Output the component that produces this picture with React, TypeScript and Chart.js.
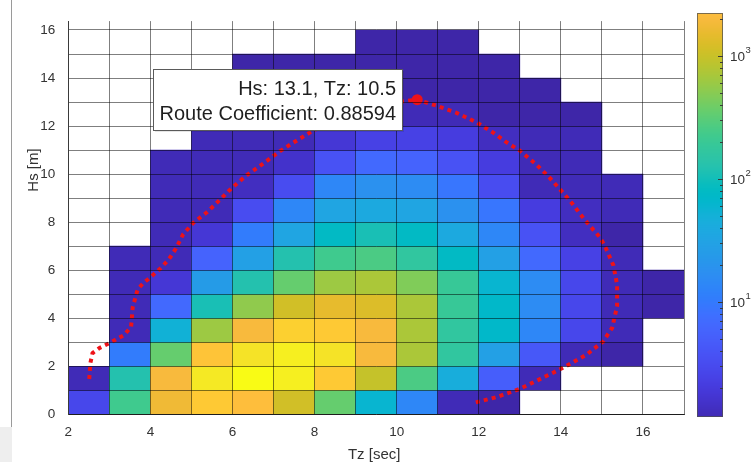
import React, { useEffect, useRef } from 'react';
import { Chart, registerables } from 'chart.js';

Chart.register(...registerables);

const FONT = "'Liberation Sans', Arial, Helvetica, sans-serif";

// Bin lower edges
const TZ_BINS = [2, 3, 4, 5, 6, 7, 8, 9, 10, 11, 12, 13, 14, 15, 16];
const HS_BINS = [0, 1, 2, 3, 4, 5, 6, 7, 8, 9, 10, 11, 12, 13, 14, 15];

// Occurrence per Hs row (columns follow TZ_BINS), null = empty bin
const OCC_HS0 = [2.8, 224, 1730, 3100, 2320, 1120, 350, 60, 14, 1.2, 1, null, null, null, null];
const OCC_HS1 = [1.2, 125, 2000, 6500, 10000, 7500, 3100, 960, 260, 45, 5, 1.2, null, null, null];
const OCC_HS2 = [null, 10.4, 350, 2700, 5600, 7500, 5600, 2000, 720, 167, 29, 4.3, 1.2, 1, null];
const OCC_HS3 = [null, 1.2, 52, 620, 2000, 3600, 3100, 2000, 720, 167, 70, 14, 2.8, 1.2, null];
const OCC_HS4 = [null, 1.2, 6.7, 108, 540, 1120, 1500, 1290, 720, 193, 70, 16, 2.8, 1.2, 1];
const OCC_HS5 = [null, 1.2, 1.8, 25, 125, 350, 620, 720, 460, 193, 60, 16, 2.8, 1.2, 1];
const OCC_HS6 = [null, 1.2, 1.2, 5.8, 29, 125, 224, 260, 167, 80, 29, 6.7, 2.4, 1.2, null];
const OCC_HS7 = [null, null, 1.2, 1.8, 10.4, 33.5, 80, 108, 80, 39, 14, 3.7, 1.34, 1, null];
const OCC_HS8 = [null, null, 1.2, 1.2, 3.2, 14, 33.5, 39, 33.5, 18.6, 9, 2.1, 1.34, 1.2, null];
const OCC_HS9 = [null, null, 1.2, 1.2, 1.34, 3.2, 14, 18.6, 16, 9, 3.2, 1.2, 1.2, 1.2, null];
const OCC_HS10 = [null, null, 1.2, 1.2, 1.2, 1.55, 3.7, 6.7, 5.8, 3.7, 2.1, 1.2, 1.2, null, null];
const OCC_HS11 = [null, null, null, 1.2, 1.2, 1.2, 1.8, 2.4, 2.4, 2.1, 1.34, 1.2, 1.2, null, null];
const OCC_HS12 = [null, null, null, 1, 1, 1.2, 1.2, 1.3, 1.2, 1.2, 1, 1, 1, null, null];
const OCC_HS13 = [null, null, null, null, 1, 1, 1, 1, 1, 1, 1, 1, null, null, null];
const OCC_HS14 = [null, null, null, null, 1, 1, 1, 1, 1, 1, 1, null, null, null, null];
const OCC_HS15 = [null, null, null, null, null, null, null, 1, 1, 1, null, null, null, null, null];

const OCC_ROWS = [
  OCC_HS0, OCC_HS1, OCC_HS2, OCC_HS3, OCC_HS4, OCC_HS5, OCC_HS6, OCC_HS7,
  OCC_HS8, OCC_HS9, OCC_HS10, OCC_HS11, OCC_HS12, OCC_HS13, OCC_HS14, OCC_HS15,
];

// Route contour
const ROUTE_TZ = [2.51, 2.54, 2.59, 2.76, 3.0, 3.36, 3.53, 3.57, 3.69, 3.82, 4.03, 4.23, 4.45, 4.62, 4.8, 5.05, 5.37, 5.7, 5.98, 6.35, 6.75, 7.16, 7.56, 7.95, 8.6, 9.3, 9.9, 10.5, 10.97, 11.46, 11.95, 12.35, 12.68, 13.0, 13.4, 13.7, 14.22, 14.58, 14.96, 15.1, 15.28, 15.37, 15.37, 15.25, 15.03, 14.63, 14.06, 13.57, 13.0, 12.44, 11.87];
const ROUTE_HS = [1.47, 2.15, 2.55, 2.76, 2.96, 3.3, 3.64, 4.46, 5.2, 5.45, 5.75, 6.05, 6.45, 6.9, 7.5, 7.98, 8.4, 8.94, 9.42, 9.96, 10.44, 10.96, 11.39, 11.8, 12.3, 12.7, 12.97, 13.1, 12.85, 12.55, 12.15, 11.73, 11.32, 10.98, 10.4, 9.9, 8.9, 8.1, 7.35, 6.9, 6.2, 5.4, 4.5, 3.6, 3.03, 2.49, 1.94, 1.53, 1.06, 0.72, 0.47];

const PEAK_TZ = [10.5];
const PEAK_HS = [13.1];
const ROUTE_COEFFICIENT = 0.88594;

const X_TICK_LABELS = [2, 4, 6, 8, 10, 12, 14, 16];
const Y_TICK_LABELS = [0, 2, 4, 6, 8, 10, 12, 14, 16];
const CBAR_DECADES = [1, 2, 3];

// color limits (log scale)
const C_LOG_MIN = 0;
const C_LOG_MAX = 4;
const CBAR_LOG_MIN = 0.065;
const CBAR_LOG_MAX = 3.35;

const PARULA = [
  [0.2422, 0.1504, 0.6603], [0.2504, 0.1650, 0.7076], [0.2578, 0.1818, 0.7511], [0.2647, 0.1978, 0.7952],
  [0.2706, 0.2147, 0.8364], [0.2751, 0.2342, 0.8710], [0.2783, 0.2559, 0.8991], [0.2803, 0.2782, 0.9221],
  [0.2813, 0.3006, 0.9414], [0.2810, 0.3228, 0.9579], [0.2795, 0.3447, 0.9717], [0.2760, 0.3667, 0.9829],
  [0.2699, 0.3892, 0.9906], [0.2602, 0.4123, 0.9952], [0.2440, 0.4358, 0.9988], [0.2206, 0.4603, 0.9973],
  [0.1963, 0.4847, 0.9892], [0.1834, 0.5074, 0.9798], [0.1786, 0.5289, 0.9682], [0.1764, 0.5499, 0.9520],
  [0.1687, 0.5703, 0.9359], [0.1540, 0.5902, 0.9218], [0.1460, 0.6091, 0.9079], [0.1380, 0.6276, 0.8973],
  [0.1248, 0.6459, 0.8883], [0.1113, 0.6635, 0.8763], [0.0952, 0.6798, 0.8598], [0.0689, 0.6948, 0.8394],
  [0.0297, 0.7082, 0.8163], [0.0036, 0.7203, 0.7917], [0.0067, 0.7312, 0.7660], [0.0433, 0.7411, 0.7394],
  [0.0964, 0.7500, 0.7120], [0.1408, 0.7584, 0.6842], [0.1717, 0.7670, 0.6554], [0.1938, 0.7758, 0.6251],
  [0.2161, 0.7843, 0.5923], [0.2470, 0.7918, 0.5567], [0.2906, 0.7973, 0.5188], [0.3406, 0.8008, 0.4789],
  [0.3909, 0.8029, 0.4354], [0.4456, 0.8024, 0.3909], [0.5044, 0.7993, 0.3480], [0.5616, 0.7942, 0.3045],
  [0.6174, 0.7876, 0.2612], [0.6720, 0.7793, 0.2227], [0.7242, 0.7698, 0.1910], [0.7738, 0.7598, 0.1646],
  [0.8203, 0.7498, 0.1535], [0.8634, 0.7406, 0.1596], [0.9035, 0.7330, 0.1774], [0.9393, 0.7288, 0.2100],
  [0.9728, 0.7298, 0.2394], [0.9956, 0.7434, 0.2371], [0.9970, 0.7659, 0.2199], [0.9952, 0.7893, 0.2028],
  [0.9892, 0.8136, 0.1885], [0.9786, 0.8386, 0.1766], [0.9676, 0.8639, 0.1643], [0.9610, 0.8890, 0.1537],
  [0.9597, 0.9135, 0.1423], [0.9628, 0.9373, 0.1265], [0.9691, 0.9606, 0.1064], [0.9769, 0.9839, 0.0805],
];

function parula(t: number): string {
  const c = Math.max(0, Math.min(1, t)) * 63;
  const i = Math.min(62, Math.floor(c));
  const f = c - i;
  const a = PARULA[i];
  const b = PARULA[i + 1];
  const r = Math.round((a[0] + (b[0] - a[0]) * f) * 255);
  const g = Math.round((a[1] + (b[1] - a[1]) * f) * 255);
  const bl = Math.round((a[2] + (b[2] - a[2]) * f) * 255);
  return `rgb(${r},${g},${bl})`;
}

function colorForLog(lv: number): string {
  return parula((lv - C_LOG_MIN) / (C_LOG_MAX - C_LOG_MIN));
}

type Cell = { x: number; y: [number, number]; v: number };

function buildCells(): Cell[] {
  const cells: Cell[] = [];
  OCC_ROWS.forEach((row, i) => {
    row.forEach((v, j) => {
      if (v !== null && v !== undefined) {
        cells.push({ x: TZ_BINS[j] + 0.5, y: [HS_BINS[i], HS_BINS[i] + 1], v: v as number });
      }
    });
  });
  return cells;
}

const ROUTE_RED = 'rgb(238,18,24)';
const AXIS_TEXT = '#333333';

const decorPlugin = {
  id: 'decor',
  afterDraw(chart: any) {
    const ctx: CanvasRenderingContext2D = chart.ctx;
    const xs = chart.scales.x;
    const ys = chart.scales.y;
    const area = chart.chartArea;
    ctx.save();

    // window panel artefact on the left
    ctx.fillStyle = '#eeeeee';
    ctx.fillRect(0, 427, 12, 35);
    ctx.strokeStyle = '#9a9a9a';
    ctx.lineWidth = 1;
    ctx.beginPath();
    ctx.moveTo(11.5, 0);
    ctx.lineTo(11.5, 427);
    ctx.stroke();

    // axis titles
    ctx.fillStyle = AXIS_TEXT;
    ctx.font = `15px ${FONT}`;
    ctx.textAlign = 'center';
    ctx.textBaseline = 'alphabetic';
    ctx.fillText('Tz [sec]', (area.left + area.right) / 2 - 2, 459);
    ctx.save();
    ctx.translate(37.5, 170);
    ctx.rotate(-Math.PI / 2);
    ctx.fillText('Hs [m]', 0, 0);
    ctx.restore();

    // colorbar
    const cx0 = 697, cx1 = 723, cyTop = 13, cyBot = 417;
    const ch = cyBot - cyTop;
    for (let y = cyTop; y < cyBot; y++) {
      const lv = CBAR_LOG_MAX - ((y + 0.5 - cyTop) / ch) * (CBAR_LOG_MAX - CBAR_LOG_MIN);
      ctx.fillStyle = colorForLog(lv);
      ctx.fillRect(cx0, y, cx1 - cx0, 1);
    }
    ctx.strokeStyle = 'rgba(80,80,80,0.75)';
    ctx.lineWidth = 1;
    ctx.strokeRect(cx0 + 0.5, cyTop + 0.5, cx1 - cx0 - 1, ch - 1);
    const yForLog = (lv: number) => cyBot - ((lv - CBAR_LOG_MIN) / (CBAR_LOG_MAX - CBAR_LOG_MIN)) * ch;
    ctx.strokeStyle = '#3a3a3a';
    for (let k = 0; k <= 3; k++) {
      for (let m = 1; m <= 9; m++) {
        const lv = Math.log10(m * Math.pow(10, k));
        if (lv < CBAR_LOG_MIN || lv > CBAR_LOG_MAX) continue;
        const y = Math.round(yForLog(lv)) + 0.5;
        const len = m === 1 ? 5 : 3;
        ctx.beginPath();
        ctx.moveTo(cx1 - len, y);
        ctx.lineTo(cx1, y);
        ctx.stroke();
      }
    }
    ctx.fillStyle = AXIS_TEXT;
    ctx.textAlign = 'left';
    ctx.textBaseline = 'middle';
    CBAR_DECADES.forEach((d) => {
      const y = yForLog(d);
      ctx.font = `13.5px ${FONT}`;
      ctx.fillText('10', 730, y + 1);
      const w = ctx.measureText('10').width;
      ctx.font = `9.5px ${FONT}`;
      ctx.fillText(String(d), 730 + w + 0.5, y - 6);
    });

    // data tip
    const px = xs.getPixelForValue(PEAK_TZ[0]);
    const py = ys.getPixelForValue(PEAK_HS[0]);
    const l1 = `Hs: ${PEAK_HS[0]}, Tz: ${PEAK_TZ[0]}`;
    const l2 = `Route Coefficient: ${ROUTE_COEFFICIENT}`;
    ctx.font = `20px ${FONT}`;
    const tw = Math.max(ctx.measureText(l1).width, ctx.measureText(l2).width);
    const right = Math.round(px - 15);
    const w = Math.round(tw + 13);
    const left = right - w;
    const top = Math.round(py - 31);
    const h = 61;
    ctx.fillStyle = 'rgba(0,0,0,0.10)';
    ctx.fillRect(left + 2, top + 2, w, h);
    ctx.fillStyle = '#ffffff';
    ctx.fillRect(left, top, w, h);
    ctx.strokeStyle = '#5a5a5a';
    ctx.lineWidth = 1;
    ctx.strokeRect(left + 0.5, top + 0.5, w, h);
    ctx.fillStyle = '#1f1f1f';
    ctx.textAlign = 'right';
    ctx.textBaseline = 'alphabetic';
    ctx.fillText(l1, right - 6, py - 4.3);
    ctx.fillText(l2, right - 6, py + 20.7);

    ctx.restore();
  },
};

export default function App() {
  const ref = useRef<HTMLCanvasElement>(null);

  useEffect(() => {
    const canvas = ref.current;
    if (!canvas) return;
    const cells = buildCells();
    const route = ROUTE_TZ.map((tz, i) => ({ x: tz, y: ROUTE_HS[i] }));
    const peak = PEAK_TZ.map((tz, i) => ({ x: tz, y: PEAK_HS[i] }));

    const chart = new Chart(canvas, {
      type: 'scatter',
      data: {
        datasets: [
          {
            type: 'bar',
            label: 'Occurrence',
            data: cells as any,
            backgroundColor: (c: any) => (c.raw ? colorForLog(Math.log10(c.raw.v)) : 'rgba(0,0,0,0)'),
            borderWidth: 0,
            categoryPercentage: 1,
            barPercentage: 1,
            grouped: false,
            order: 3,
          } as any,
          {
            type: 'line',
            label: 'Route',
            data: route,
            borderColor: ROUTE_RED,
            borderWidth: 4,
            borderDash: [4, 4.2],
            borderCapStyle: 'butt',
            pointRadius: 0,
            fill: false,
            tension: 0,
            order: 2,
          } as any,
          {
            type: 'scatter',
            label: 'Peak',
            data: peak,
            pointRadius: 5.5,
            backgroundColor: ROUTE_RED,
            borderColor: ROUTE_RED,
            borderWidth: 0,
            order: 1,
          } as any,
        ],
      },
      options: {
        responsive: false,
        animation: false,
        devicePixelRatio: 1,
        layout: { padding: { top: 13, right: 68, left: 0, bottom: 0 } },
        plugins: { legend: { display: false }, tooltip: { enabled: false } },
        events: [],
        scales: {
          x: {
            type: 'linear',
            min: 2,
            max: 17,
            offset: false,
            afterFit: (s: any) => { s.height = 47.7; },
            grid: { color: 'rgba(0,0,0,0.5)', lineWidth: 1, drawTicks: false, offset: false, z: 1 },
            border: { display: true, color: '#3a3a3a', width: 1, z: 1 },
            ticks: {
              stepSize: 1,
              autoSkip: false,
              maxRotation: 0,
              includeBounds: false,
              padding: 10,
              color: AXIS_TEXT,
              font: { family: FONT, size: 13.5 },
              callback: (v: any) => (X_TICK_LABELS.includes(Number(v)) ? String(v) : ''),
            },
          },
          y: {
            type: 'linear',
            min: 0,
            max: 16.37,
            offset: false,
            afterFit: (s: any) => { s.width = 68.3; },
            grid: { color: 'rgba(0,0,0,0.5)', lineWidth: 1, drawTicks: false, z: 1 },
            border: { display: true, color: '#3a3a3a', width: 1, z: 1 },
            ticks: {
              stepSize: 1,
              autoSkip: false,
              includeBounds: false,
              padding: 13,
              color: AXIS_TEXT,
              font: { family: FONT, size: 13.5 },
              callback: (v: any) => (Y_TICK_LABELS.includes(Number(v)) ? String(v) : ''),
            },
          },
        },
      } as any,
      plugins: [decorPlugin],
    });
    return () => chart.destroy();
  }, []);

  return (
    <div style={{ position: 'fixed', left: 0, top: 0, width: 752, height: 462, background: '#ffffff' }}>
      <canvas ref={ref} width={752} height={462} style={{ display: 'block', width: 752, height: 462 }} />
    </div>
  );
}
